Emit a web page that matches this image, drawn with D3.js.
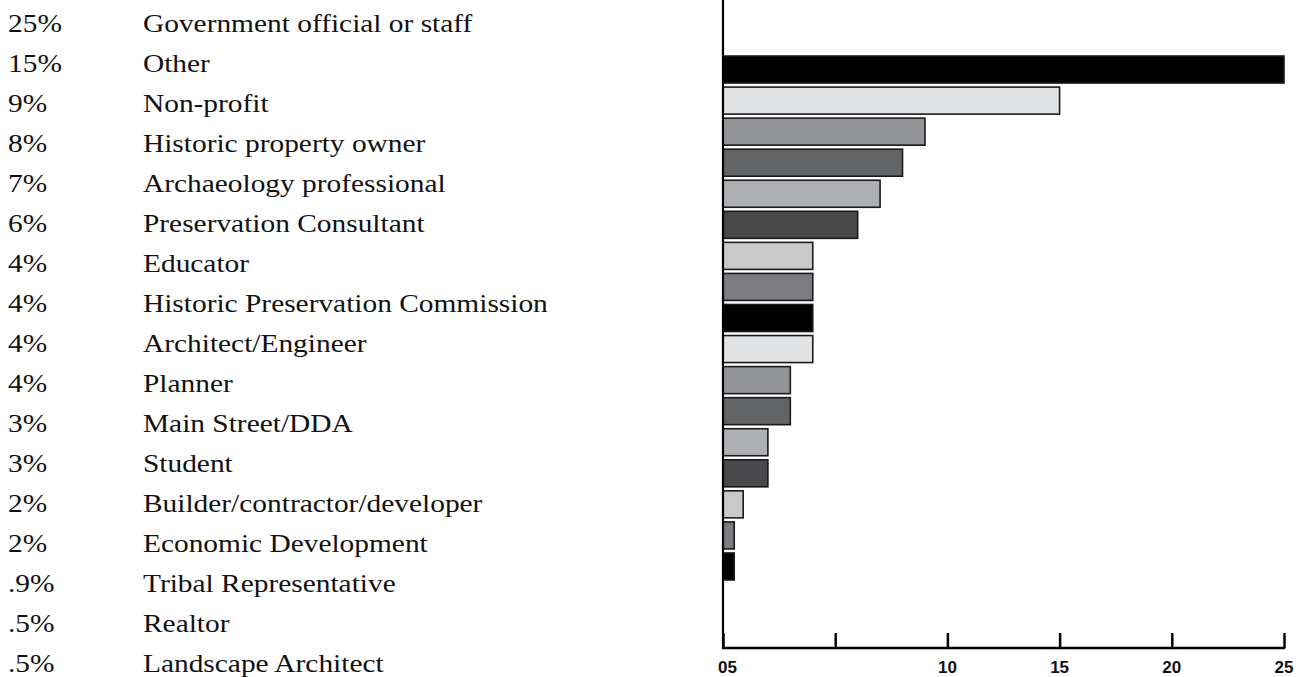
<!DOCTYPE html>
<html>
<head>
<meta charset="utf-8">
<script src="https://cdn.jsdelivr.net/npm/d3@7"></script>
<style>
  html, body { margin: 0; padding: 0; background: #ffffff; }
  svg { display: block; }
</style>
</head>
<body>
<svg id="chart" width="1308" height="677"></svg>
<script>
// ---- data ----
const categories = [
  "Government official or staff", "Other", "Non-profit", "Historic property owner",
  "Archaeology professional", "Preservation Consultant", "Educator",
  "Historic Preservation Commission", "Architect/Engineer", "Planner",
  "Main Street/DDA", "Student", "Builder/contractor/developer",
  "Economic Development", "Tribal Representative", "Realtor", "Landscape Architect"
];
const pctLabels = ["25%", "15%", "9%", "8%", "7%", "6%", "4%", "4%", "4%", "4%",
                   "3%", "3%", "2%", "2%", ".9%", ".5%", ".5%"];
const values = [25, 15, 9, 8, 7, 6, 4, 4, 4, 4, 3, 3, 2, 2, 0.9, 0.5, 0.5];
const tickValues = [0, 5, 10, 15, 20, 25];
const tickLabels = ["05", "", "10", "15", "20", "25"];
const barColors = ["#000000", "#e1e2e4", "#939598", "#636466",
                   "#aeafb2", "#4a4a4c", "#c8c9cb", "#7b7c7f"];

// ---- layout ----
const svg = d3.select("#chart");
const x = d3.scaleLinear().domain([0, 25]).range([723, 1284]);
const yText = d3.scalePoint().domain(categories).range([23, 663]);
const yBar = d3.scaleBand().domain(categories).range([54, 582]).paddingInner(0.13).paddingOuter(0.065);
const color = d3.scaleOrdinal().domain(categories).range(barColors);

// ---- text list ----
const serif = "'Liberation Serif', 'DejaVu Serif', serif";
const sx = 1.2;
const rows = svg.append("g").selectAll("g.row").data(categories).join("g")
  .attr("class", "row")
  .attr("transform", d => `translate(0,${yText(d)}) scale(${sx},1)`);
rows.append("text")
  .attr("x", 8 / sx).attr("dy", "0.35em")
  .attr("font-family", serif).attr("font-size", 24.5).attr("fill", "#111")
  .text((d, i) => pctLabels[i]);
rows.append("text")
  .attr("x", 143 / sx).attr("dy", "0.35em")
  .attr("font-family", serif).attr("font-size", 24.5).attr("fill", "#111")
  .text(d => d);

// ---- bars ----
svg.append("g").selectAll("rect").data(categories).join("rect")
  .attr("x", x(0))
  .attr("y", d => yBar(d))
  .attr("width", (d, i) => x(values[i]) - x(0))
  .attr("height", yBar.bandwidth())
  .attr("fill", d => color(d))
  .attr("stroke", "#1a1a1a")
  .attr("stroke-width", 1.6);

// ---- axes ----
const axisG = svg.append("g").attr("transform", "translate(0,648)");
const xAxis = d3.axisTop(x).tickValues(tickValues).tickSize(15).tickFormat("");
axisG.call(xAxis);
axisG.select(".domain").remove();
axisG.selectAll(".tick line").attr("stroke", "#000").attr("stroke-width", 2.5);
axisG.append("line")
  .attr("x1", x(0) - 1).attr("x2", x(25) + 1.2)
  .attr("y1", 0).attr("y2", 0)
  .attr("stroke", "#000").attr("stroke-width", 2.5);

// tick labels
axisG.selectAll("text.tl").data(tickValues).join("text")
  .attr("class", "tl")
  .attr("x", d => d === 0 ? x(d) - 5 : x(d))
  .attr("y", 24.5)
  .attr("text-anchor", d => d === 0 ? "start" : "middle")
  .attr("font-family", "'Liberation Sans Narrow', 'Liberation Sans', Arial, sans-serif")
  .attr("font-weight", "bold")
  .attr("font-size", 17)
  .attr("fill", "#111")
  .text((d, i) => tickLabels[i]);

// vertical axis line
svg.append("line")
  .attr("x1", x(0)).attr("x2", x(0))
  .attr("y1", 0).attr("y2", 649)
  .attr("stroke", "#000").attr("stroke-width", 2.2);
</script>
</body>
</html>
